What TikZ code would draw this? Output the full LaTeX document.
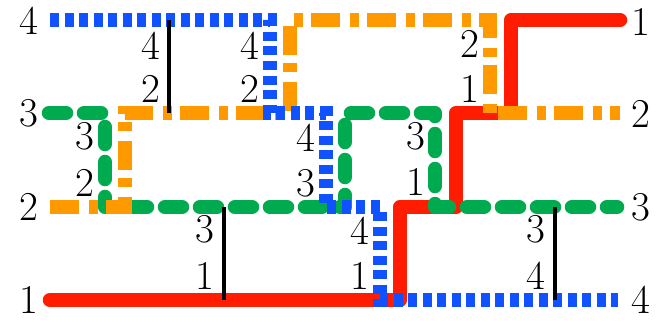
\documentclass[tikz,border=0pt]{standalone}
\definecolor{wred}{RGB}{255,28,0}
\definecolor{wblue}{RGB}{16,82,255}
\definecolor{worange}{RGB}{255,153,0}
\definecolor{wgreen}{RGB}{0,170,79}
\begin{document}
\begin{tikzpicture}[x=1pt,y=-1pt,
  redwire/.style={draw=wred,line width=14.5pt,line cap=round,line join=round},
  greenwire/.style={draw=wgreen,line width=14.5pt,line cap=round,line join=round,dash pattern=on 17pt off 18pt},
  orangewire/.style={draw=worange,line width=14.5pt,line cap=butt,line join=miter,dash pattern=on 29pt off 10pt on 9pt off 8pt},
  bluewire/.style={draw=wblue,line width=14.5pt,line cap=butt,line join=miter,dash pattern=on 9pt off 5.5pt},
  rung/.style={draw=black,line width=4.5pt},
  lbl/.style={inner sep=0pt,font=\fontsize{41}{48}\selectfont}]
\useasboundingbox (0,0) rectangle (668,321);
% red wire
\coordinate (r0) at (50,300); \coordinate (r1) at (400,300); \coordinate (r2) at (400,207);
\coordinate (r3) at (456,207); \coordinate (r4) at (456,113); \coordinate (r5) at (511,113);
\coordinate (r6) at (511,20); \coordinate (r7) at (620,20);
% green wire
\coordinate (g0) at (49,113); \coordinate (g1) at (105,113); \coordinate (g2) at (105,207);
\coordinate (g3) at (345,207); \coordinate (g4) at (345,113); \coordinate (g5) at (435,113);
\coordinate (g6) at (435,207); \coordinate (g7) at (617,207);
% orange wire
\coordinate (o0) at (50,207); \coordinate (o1) at (125,207); \coordinate (o2) at (125,113);
\coordinate (o3) at (290,113); \coordinate (o4) at (290,20); \coordinate (o5) at (490,20);
\coordinate (o6) at (490,113); \coordinate (o7) at (620,113);
% blue wire
\coordinate (b0) at (50,20); \coordinate (b1) at (270,20); \coordinate (b2) at (270,113);
\coordinate (b3) at (326,113); \coordinate (b4) at (326,207); \coordinate (b5) at (380,207);
\coordinate (b6) at (380,300); \coordinate (b7) at (618,300);
% rungs
\coordinate (k1a) at (169,20); \coordinate (k1b) at (169,113);
\coordinate (k2a) at (224,207); \coordinate (k2b) at (224,300);
\coordinate (k3a) at (555,207); \coordinate (k3b) at (555,300);

\draw[redwire] (r0) -- (r1) -- (r2) -- (r3) -- (r4) -- (r5) -- (r6) -- (r7);
\draw[greenwire] (g0) -- (g1) -- (g2) -- (g3) -- (g4) -- (g5) -- (g6) -- (g7);
\draw[orangewire] (o0) -- (o1) -- (o2) -- (o3) -- (o4) -- (o5) -- (o6) -- (o7);
\draw[bluewire] (b0) -- (b1) -- (b2) -- (b3) -- (b4) -- (b5) -- (b6) -- (b7);
\draw[rung] (k1a) -- (k1b);
\draw[rung] (k2a) -- (k2b);
\draw[rung] (k3a) -- (k3b);

% end labels
\node[lbl] (l4) at (29,21) {4};
\node[lbl] (l3) at (29,113) {3};
\node[lbl] (l2) at (29,207) {2};
\node[lbl] (l1) at (29,300) {1};
\node[lbl] (e1) at (641,22) {1};
\node[lbl] (e2) at (641,114) {2};
\node[lbl] (e3) at (641,207) {3};
\node[lbl] (e4) at (641,300) {4};
% crossing labels
\node[lbl] (a1) at (151,46) {4};
\node[lbl] (a2) at (151,89) {2};
\node[lbl] (a3) at (250,46) {4};
\node[lbl] (a4) at (250,89) {2};
\node[lbl] (a5) at (85,136) {3};
\node[lbl] (a6) at (85,183) {2};
\node[lbl] (a7) at (306,138) {4};
\node[lbl] (a8) at (306,183) {3};
\node[lbl] (a9) at (205,229) {3};
\node[lbl] (a10) at (205,276) {1};
\node[lbl] (a11) at (470,44) {2};
\node[lbl] (a12) at (470,89) {1};
\node[lbl] (a13) at (416,136) {3};
\node[lbl] (a14) at (416,182) {1};
\node[lbl] (a15) at (360,231) {4};
\node[lbl] (a16) at (360,276) {1};
\node[lbl] (a17) at (536,229) {3};
\node[lbl] (a18) at (536,276) {4};
\end{tikzpicture}
\end{document}
